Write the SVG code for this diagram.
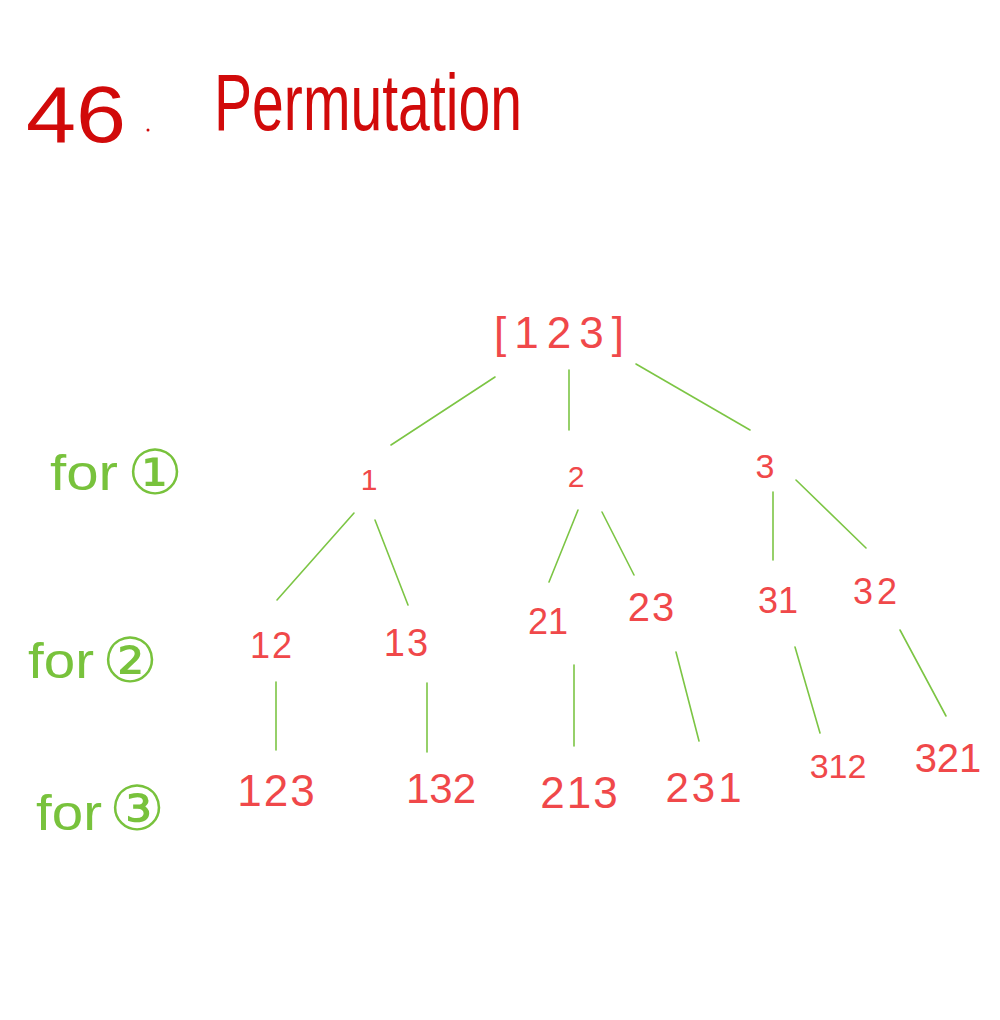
<svg xmlns="http://www.w3.org/2000/svg" width="1000" height="1020" viewBox="0 0 1000 1020">
<style>
.title{font-family:"Liberation Sans","DejaVu Sans",sans-serif;font-size:80px;fill:#d10a0a;font-weight:normal}
.n{font-family:"Liberation Sans","DejaVu Sans",sans-serif;fill:#f0484a;text-anchor:middle}
.g{font-family:"Liberation Sans","DejaVu Sans",sans-serif;fill:#78c23c;font-size:50px}
.c{font-family:"DejaVu Sans","Noto Sans CJK SC",sans-serif;fill:#78c23c;font-size:62px;text-anchor:middle}
.e{stroke:#7cc544;stroke-width:1.6;fill:none;stroke-linecap:round}
</style>
<rect width="1000" height="1020" fill="#ffffff"/>
<g id="title">
<text class="title" x="26" y="142" textLength="100" lengthAdjust="spacingAndGlyphs">46</text>
<circle cx="148" cy="130" r="1.5" fill="#d10a0a"/>
<text class="title" x="214" y="130" textLength="308" lengthAdjust="spacingAndGlyphs">Permutation</text>
</g>
<g id="labels">
<text class="g" x="50" y="490" textLength="68" lengthAdjust="spacingAndGlyphs">for</text>
<text class="c" x="155" y="494">①</text>
<text class="g" x="28" y="678" textLength="66" lengthAdjust="spacingAndGlyphs">for</text>
<text class="c" x="130" y="682">②</text>
<text class="g" x="36" y="830" textLength="66" lengthAdjust="spacingAndGlyphs">for</text>
<text class="c" x="137" y="830">③</text>
</g>
<g id="connectors">
<line class="e" x1="495" y1="377" x2="391" y2="445"/>
<line class="e" x1="569" y1="370" x2="569" y2="430"/>
<line class="e" x1="636" y1="364" x2="750" y2="430"/>
<line class="e" x1="354" y1="513" x2="277" y2="600"/>
<line class="e" x1="375" y1="520" x2="408" y2="605"/>
<line class="e" x1="578" y1="510" x2="549" y2="582"/>
<line class="e" x1="602" y1="512" x2="634" y2="575"/>
<line class="e" x1="773" y1="492" x2="773" y2="560"/>
<line class="e" x1="796" y1="480" x2="866" y2="548"/>
<line class="e" x1="276" y1="682" x2="276" y2="750"/>
<line class="e" x1="427" y1="683" x2="427" y2="752"/>
<line class="e" x1="574" y1="665" x2="574" y2="746"/>
<line class="e" x1="676" y1="652" x2="699" y2="741"/>
<line class="e" x1="795" y1="647" x2="820" y2="733"/>
<line class="e" x1="900" y1="630" x2="946" y2="716"/>
</g>
<g id="root"><text class="n" x="559" y="348" font-size="44" textLength="130" lengthAdjust="spacing">[123]</text></g>
<g id="n1"><text class="n" x="369" y="490" font-size="30">1</text></g>
<g id="n2"><text class="n" x="576" y="487" font-size="30">2</text></g>
<g id="n3"><text class="n" x="765" y="478" font-size="34">3</text></g>
<g id="n12"><text class="n" x="272" y="658" font-size="36" letter-spacing="2">12</text></g>
<g id="n13"><text class="n" x="407" y="656" font-size="38" letter-spacing="2">13</text></g>
<g id="n21"><text class="n" x="548" y="634" font-size="36">21</text></g>
<g id="n23"><text class="n" x="652" y="621" font-size="40" letter-spacing="2">23</text></g>
<g id="n31"><text class="n" x="778" y="613" font-size="36">31</text></g>
<g id="n32"><text class="n" x="877" y="604" font-size="36" letter-spacing="4">32</text></g>
<g id="n123"><text class="n" x="277" y="806" font-size="44" letter-spacing="2">123</text></g>
<g id="n132"><text class="n" x="441" y="803" font-size="42">132</text></g>
<g id="n213"><text class="n" x="580" y="808" font-size="44" letter-spacing="2">213</text></g>
<g id="n231"><text class="n" x="705" y="802" font-size="42" letter-spacing="3">231</text></g>
<g id="n312"><text class="n" x="838" y="778" font-size="34">312</text></g>
<g id="n321"><text class="n" x="948" y="772" font-size="40">321</text></g>
</svg>
